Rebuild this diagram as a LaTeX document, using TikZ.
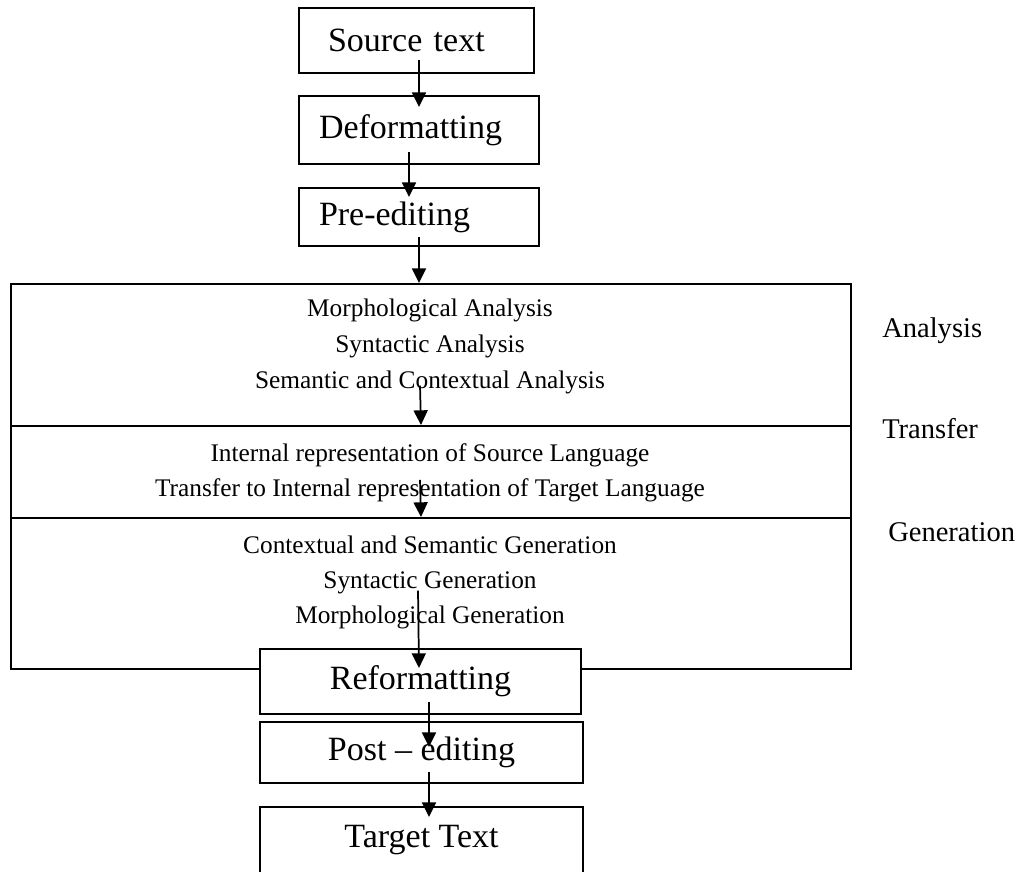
\documentclass[tikz,border=0pt]{standalone}
\usepackage{fontspec}
\setmainfont{Liberation Serif}
\usetikzlibrary{arrows.meta,calc}

\tikzset{
  stagebox/.style={draw, line width=1.5pt, rectangle, anchor=north west, inner ysep=0pt, fill=white,
    font=\fontsize{25.5}{30}\selectfont},
  levelbox/.style={draw, line width=1.5pt, rectangle, anchor=north west, inner sep=0pt, minimum width=630pt},
  leveltext/.style={anchor=north, align=center, inner sep=0pt, font=\fontsize{19}{26.25}\selectfont},
  sidelabel/.style={anchor=base west, inner sep=0pt, font=\fontsize{21.4}{25}\selectfont},
  flow/.style={line width=1.3pt, -{Triangle[length=11pt,width=10.5pt]}}
}

\begin{document}
\begin{tikzpicture}[x=0.75pt,y=0.75pt,yscale=-1]
\useasboundingbox (0,0) rectangle (1024,871);
\clip (0,0) rectangle (1024,871);

%Top stages
\node[stagebox, text width=132.75pt, inner xsep=21.75pt, minimum height=48.75pt, align=left] (src) at (298,7) {Source text};
\node[stagebox, text width=150pt, inner xsep=15pt, minimum height=51pt, align=left] (dfm) at (298,95) {Deformatting};
\node[stagebox, text width=150pt, inner xsep=15pt, minimum height=43.5pt, align=left] (pre) at (298,187) {Pre-editing};

%Analysis / transfer / generation levels
\node[levelbox, minimum height=106.5pt] (ana) at (10,283) {};
\node[levelbox, minimum height=69pt] (trf) at (10,425) {};
\node[levelbox, minimum height=113.25pt] (gen) at (10,517) {};

\node[leveltext, font=\fontsize{19}{27}\selectfont] (anatext) at (430,299) {Morphological Analysis\\Syntactic Analysis\\Semantic and Contextual Analysis};
\node[leveltext] (trftext) at (430,443) {Internal representation of Source Language\\Transfer to Internal representation of Target Language};
\node[leveltext] (gentext) at (430,536) {Contextual and Semantic Generation\\Syntactic Generation\\Morphological Generation};

\node[sidelabel] (analabel) at (882,337) {Analysis};
\node[sidelabel] (trflabel) at (882,438) {Transfer};
\node[sidelabel] (genlabel) at (888,541) {Generation};

%Bottom stages
\node[stagebox, minimum width=240.75pt, minimum height=48.75pt] (rfm) at (259,648) {Reformatting};
\node[stagebox, minimum width=242.25pt, minimum height=45.75pt] (pst) at (259,721) {Post -- editing};
\node[stagebox, minimum width=242.25pt, minimum height=49.5pt] (tgt) at (259,806) {Target Text};

%Arrows
\draw[flow] ($(src.south)+(2.5,-14)$) -- ($(dfm.north)+(0,12)$);
\draw[flow] ($(dfm.south)+(-10,-13)$) -- ($(pre.north)+(-10,10)$);
\draw[flow] ($(pre.south)+(0,-10)$) -- (pre.south |- ana.north);
\draw[flow] ($(anatext.south)+(-10,-9)$) -- ($(trf.north)+(-10,0)$);
\draw[flow] ($(trftext.south)+(-10,-22)$) -- ($(gen.north)+(-10,0)$);
\draw[flow] ($(gentext.south)+(-12,-39)$) -- ($(rfm.north)+(-1.5,20)$);
\draw[flow] ($(rfm.south)+(8.5,-13)$) -- ($(pst.north)+(7.5,26)$);
\draw[flow] ($(pst.south)+(7.5,-12)$) -- ($(tgt.north)+(7.5,11)$);

\end{tikzpicture}
\end{document}
